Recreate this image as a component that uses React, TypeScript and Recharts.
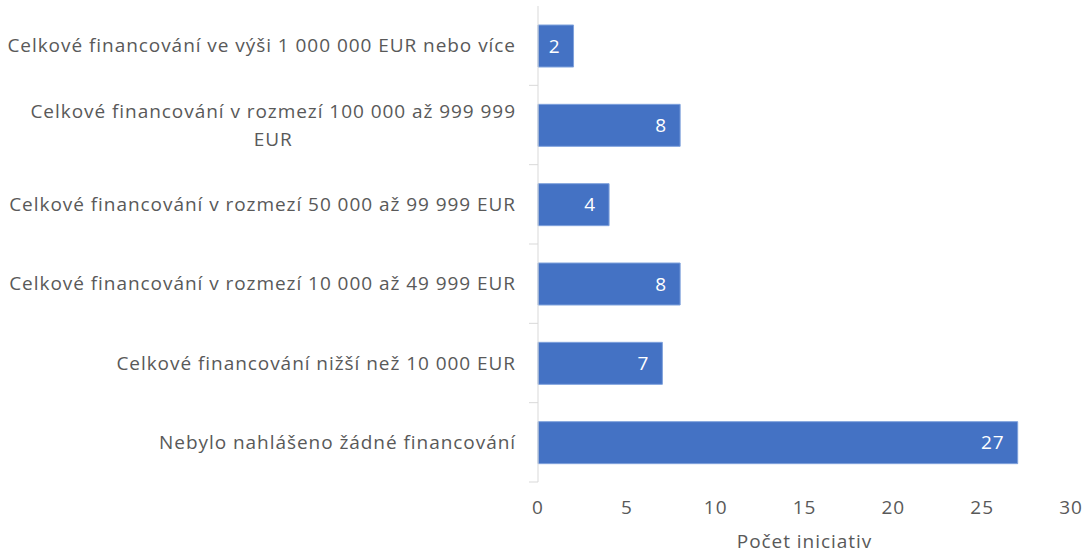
import { BarChart, Bar, XAxis, YAxis, LabelList } from 'recharts'

const categories = [
  'Celkové financování ve výši 1 000 000 EUR nebo více',
  'Celkové financování v rozmezí 100 000 až 999 999 EUR',
  'Celkové financování v rozmezí 50 000 až 99 999 EUR',
  'Celkové financování v rozmezí 10 000 až 49 999 EUR',
  'Celkové financování nižší než 10 000 EUR',
  'Nebylo nahlášeno žádné financování',
]
const counts = [2, 8, 4, 8, 7, 27]
const xTicks = [0, 5, 10, 15, 20, 25, 30]

const FONT = '"Open Sans", sans-serif'
const TEXT = '#595959'
const LABEL_SIZE = 19
const SPACING = 0.95
const W = 1083
const H = 553
const TOP = 6
const BOTTOM_AXIS = 71
const BAND = (H - TOP - BOTTOM_AXIS) / categories.length

const data = categories.map((name, i) => ({ name, value: counts[i] }))

let ctx: CanvasRenderingContext2D | null = null
const measure = (s: string) => {
  if (!ctx) ctx = document.createElement('canvas').getContext('2d')
  if (!ctx) return s.length * LABEL_SIZE * 0.5
  ctx.font = `${LABEL_SIZE}px "Open Sans"`
  return ctx.measureText(s).width + s.length * SPACING
}

const wrap = (s: string, max: number) => {
  const words = s.split(' ')
  const lines: string[] = []
  let cur = ''
  words.forEach(w => {
    const next = cur ? cur + ' ' + w : w
    if (cur && measure(next) > max) {
      lines.push(cur)
      cur = w
    } else cur = next
  })
  if (cur) lines.push(cur)
  return lines
}

const CategoryTick = ({ x, y, payload }: any) => {
  const lines = wrap(payload.value, 515)
  const axisX = x + 22
  const w0 = measure(lines[0])
  const step = 28
  const y0 = y - ((lines.length - 1) * step) / 2
  return (
    <g>
      <line x1={axisX - 9} x2={axisX} y1={y + BAND / 2} y2={y + BAND / 2} stroke="#D9D9D9" />
      {lines.map((l, i) => (
        <text
          key={i}
          x={i === 0 ? x : x - w0 / 2}
          y={y0 + i * step}
          dy="0.35em"
          textAnchor={i === 0 ? 'end' : 'middle'}
          fill={TEXT}
          fontSize={LABEL_SIZE}
          fontFamily={FONT}
          letterSpacing={SPACING}
        >
          {l}
        </text>
      ))}
    </g>
  )
}

export default function App() {
  return (
    <div style={{ position: 'absolute', left: 0, top: 0, background: '#fff' }}>
      <BarChart
        width={W}
        height={H}
        data={data}
        layout="vertical"
        margin={{ top: TOP, right: 12, bottom: 0, left: 0 }}
      >
        <XAxis
          type="number"
          domain={[0, 30]}
          ticks={xTicks}
          axisLine={false}
          tickLine={false}
          tickMargin={13}
          height={BOTTOM_AXIS}
          tick={{ fill: TEXT, fontSize: LABEL_SIZE, fontFamily: FONT, letterSpacing: SPACING }}
          label={{ value: 'Počet iniciativ', position: 'insideBottom', offset: 5, fill: TEXT, fontSize: LABEL_SIZE, fontFamily: FONT, letterSpacing: SPACING }}
        />
        <YAxis
          type="category"
          dataKey="name"
          width={538}
          axisLine={{ stroke: '#D9D9D9' }}
          tickLine={false}
          tickMargin={16}
          tick={<CategoryTick />}
          interval={0}
        />
        <Bar dataKey="value" fill="#4472C4" stroke="#7FA2DC" strokeWidth={1} barSize={42} isAnimationActive={false}>
          <LabelList dataKey="value" position="insideRight" offset={13} fill="#fff" fontSize={LABEL_SIZE} fontFamily={FONT} letterSpacing={SPACING} />
        </Bar>
      </BarChart>
    </div>
  )
}
